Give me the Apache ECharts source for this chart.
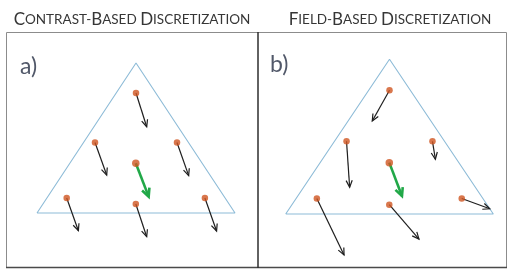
<!DOCTYPE html>
<html>
<head>
<meta charset="utf-8">
<script src="https://cdn.jsdelivr.net/npm/echarts@6/dist/echarts.min.js"></script>
<style>html,body{margin:0;padding:0;background:#fff}#c{width:508px;height:270px}</style>
</head>
<body>
<div id="c"></div>
<script>
// Panel titles
var titles = ['Contrast-Based Discretization', 'Field-Based Discretization'];
var panelLabels = ['a)', 'b)'];
// Triangle vertices (triangle units: base 0..100, apex height 100)
var triangle = [[0, 0], [100, 0], [50, 100], [0, 0]];
// Sample points (same in both panels)
var points = [[50, 80], [29.3, 47], [70.7, 47], [49.9, 33.2], [15, 10], [49.9, 6], [84.8, 10]];
// Arrow end points, panel a (contrast-based)
var arrowEndsA = [[55.4, 57.5], [35.2, 25.3], [76.6, 24.9], [56.4, 10.9], [20.9, -11.8], [55.4, -15.8], [90.7, -12.0]];
// Arrow end points, panel b (field-based)
var arrowEndsB = [[41.7, 60.1], [30.8, 17.3], [72.1, 35.4], [56.0, 11.6], [28.1, -26.5], [64.2, -16.2], [98.3, 3.4]];
var centerIndex = 3;

function smallCaps(str) {
  var out = '', cur = null, buf = '';
  for (var i = 0; i < str.length; i++) {
    var ch = str[i];
    var start = (i === 0 || str[i - 1] === ' ' || str[i - 1] === '-');
    var t = (start && ch !== ' ') ? 'c' : 's';
    if (t !== cur) { if (buf) out += '{' + cur + '|' + buf + '}'; buf = ''; cur = t; }
    buf += ch.toUpperCase();
  }
  if (buf) out += '{' + cur + '|' + buf + '}';
  return out;
}

var grids = [
  {left: 37, top: 63, width: 198, height: 150},
  {left: 285.7, top: 59.3, width: 207.6, height: 154.7}
];

function arrowItem(params, api) {
  var p0 = api.coord([api.value(0), api.value(1)]);
  var p1 = api.coord([api.value(2), api.value(3)]);
  var green = api.value(4) === 1;
  var dx = p1[0] - p0[0], dy = p1[1] - p0[1];
  var len = Math.sqrt(dx * dx + dy * dy);
  var ux = dx / len, uy = dy / len;
  var hl = green ? 9 : 7.5, ang = green ? 0.45 : 0.42;
  function rot(a) {
    var c = Math.cos(a), s = Math.sin(a);
    return [p1[0] - hl * (ux * c - uy * s), p1[1] - hl * (ux * s + uy * c)];
  }
  var color = green ? '#21a848' : '#1e1e1e';
  var w = green ? 2.6 : 1.2;
  return {
    type: 'group',
    children: [
      {type: 'line', shape: {x1: p0[0], y1: p0[1], x2: p1[0], y2: p1[1]}, style: {stroke: color, lineWidth: w}},
      {type: 'polyline', shape: {points: [rot(ang), p1, rot(-ang)]}, style: {stroke: color, lineWidth: w, fill: null, lineJoin: 'miter'}}
    ]
  };
}

function arrowData(ends) {
  return points.map(function (p, i) { return [p[0], p[1], ends[i][0], ends[i][1], i === centerIndex ? 1 : 0]; });
}

var series = [];
[arrowEndsA, arrowEndsB].forEach(function (ends, g) {
  series.push({type: 'line', xAxisIndex: g, yAxisIndex: g, data: triangle, symbol: 'none', clip: false,
    lineStyle: {color: '#8dbbd7', width: 1.1}, silent: true, z: 1});
  series.push({type: 'custom', xAxisIndex: g, yAxisIndex: g, data: arrowData(ends), renderItem: arrowItem,
    clip: false, silent: true, z: 2});
  series.push({type: 'scatter', xAxisIndex: g, yAxisIndex: g, data: points.map(function (p, i) {
      return {value: p, symbolSize: i === centerIndex ? 7.5 : 6.5};
    }), clip: false, silent: true,
    itemStyle: {color: '#cf5520'}, z: 3});
});

var titleRich = {
  c: {fontFamily: 'Lato', fontSize: 17, fontWeight: 'normal', color: '#363636'},
  s: {fontFamily: 'Lato', fontSize: 13.5, fontWeight: 'normal', color: '#363636'}
};

var chart = echarts.init(document.getElementById('c'), null, {renderer: 'canvas'});
chart.setOption({
  animation: false,
  backgroundColor: '#ffffff',
  grid: grids,
  xAxis: grids.map(function (g, i) { return {type: 'value', gridIndex: i, min: 0, max: 100, show: false}; }),
  yAxis: grids.map(function (g, i) { return {type: 'value', gridIndex: i, min: 0, max: 100, show: false}; }),
  title: [
    {text: smallCaps(titles[0]), left: 127, top: 6, textAlign: 'center',
      textStyle: {fontWeight: 'normal', rich: titleRich}},
    {text: smallCaps(titles[1]), left: 385, top: 6, textAlign: 'center',
      textStyle: {fontWeight: 'normal', rich: titleRich}}
  ],
  graphic: [
    {type: 'rect', shape: {x: 6.5, y: 32.5, width: 500, height: 235}, style: {fill: null, stroke: '#8c8c8c', lineWidth: 1}, silent: true},
    {type: 'line', shape: {x1: 6, y1: 267.5, x2: 507, y2: 267.5}, style: {stroke: '#4a4a4a', lineWidth: 1.5}, silent: true},
    {type: 'line', shape: {x1: 258, y1: 32, x2: 258, y2: 268}, style: {stroke: '#2e2e2e', lineWidth: 1.5}, silent: true},
    {type: 'text', left: 20, top: 55, style: {text: panelLabels[0], font: '23px Lato', fill: '#515869'}, silent: true},
    {type: 'text', left: 270, top: 53, style: {text: panelLabels[1], font: '23px Lato', fill: '#515869'}, silent: true}
  ],
  series: series
});
</script>
</body>
</html>
